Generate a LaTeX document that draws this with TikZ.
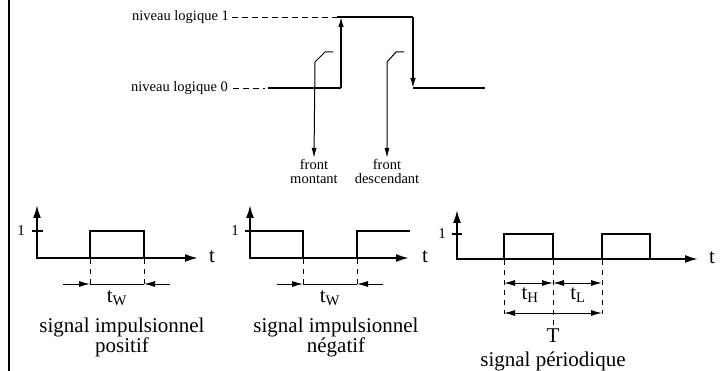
\documentclass[tikz,border=0pt]{standalone}
\usepackage{fontspec}
\setmainfont{Liberation Serif}
\usetikzlibrary{arrows.meta}
\begin{document}
\begin{tikzpicture}[x=1pt,y=-1pt,
  sig/.style={line width=1.9pt},
  axisarrow/.style={line width=1.9pt,-{Latex[length=13pt,width=8pt]}},
  topline/.style={line width=1.3pt},
  toparrow/.style={line width=1.3pt,-{Latex[length=10pt,width=5.5pt]}},
  pointer/.style={line width=1pt,-{Latex[length=10pt,width=5pt]}},
  levdash/.style={line width=0.8pt,dash pattern=on 6pt off 4pt},
  dimdash/.style={line width=0.8pt,dash pattern=on 5pt off 5pt},
  dimline/.style={line width=1pt},
  dimtip/.style={line width=1pt,-{Latex[length=11pt,width=6pt]}},
  dimboth/.style={line width=1pt,{Latex[length=11pt,width=6pt]}-{Latex[length=11pt,width=6pt]}},
  small/.style={font=\fontsize{14.5}{14.5}\selectfont,inner sep=0pt},
  onelbl/.style={font=\fontsize{15}{15}\selectfont,inner sep=0pt},
  big/.style={font=\fontsize{21}{22}\selectfont,inner sep=0pt},
  caption/.style={font=\fontsize{21}{22}\selectfont,inner sep=0pt,text height=14.7pt,text depth=4.6pt},
]
\useasboundingbox (0,0) rectangle (722,371);
% left bar
\draw[line width=2.5pt] (9,0) -- (9,371);

% ---------- top diagram ----------
\node[small,anchor=base east] (n1) at (229,21) {niveau logique 1};
\node[small,anchor=base east] (n0) at (228,92) {niveau logique 0};
\coordinate (d1s) at (232,17);
\coordinate (h1s) at (337,17);
\coordinate (up) at (341,17);
\coordinate (h1e) at (413,17);
\coordinate (d0s) at (233,88);
\coordinate (d0e) at (265,88);
\coordinate (l0s) at (268,88);
\coordinate (l0e) at (341,88);
\coordinate (dn) at (413,88);
\coordinate (l0f) at (485,88);
\draw[levdash] (d1s) -- (h1s);
\draw[levdash] (d0s) -- (d0e);
\draw[topline] (l0s) -- (l0e);
\draw[toparrow] (l0e) -- (up);
\draw[topline] (h1s) -- (h1e);
\draw[toparrow] (h1e) -- (dn);
\draw[topline] (dn) -- (l0f);

\node[small,anchor=north,align=center,inner sep=1pt] (fm) at (314,158) {front\\montant};
\node[small,anchor=north,align=center,inner sep=1pt] (fd) at (387,158) {front\\descendant};
\draw[pointer] (333,52) -- (325,52) -- (315,62) -- (fm.north);
\draw[pointer] (404,52) -- (396,52) -- (387,62) -- (fd.north);

% ---------- panel 1 ----------
\draw[sig] (90,258) -- (90,231) -- (144,231) -- (144,258);
\draw[axisarrow] (37,259) -- (37,205);
\draw[axisarrow] (36,258) -- (198,258);
\draw[sig] (32,231) -- (43,231);
\node[onelbl] (a1) at (21,231) {1};
\node[big] (ta) at (212,257) {t};
\draw[dimdash] (90,259) -- (90,284);
\draw[dimdash] (144,259) -- (144,284);
\draw[dimtip] (63,284) -- (90,284);
\draw[dimline] (90,284) -- (144,284);
\draw[dimtip] (170,284) -- (144,284);
\node[big] (tw1) at (117,298) {t\textsubscript{W}};
\node[caption] (c1a) at (122,327) {signal impulsionnel};
\node[caption] (c1b) at (122,347) {positif};

% ---------- panel 2 ----------
\draw[sig] (250,231) -- (303,231) -- (303,258);
\draw[sig] (357,258) -- (357,231) -- (410,231);
\draw[axisarrow] (250,259) -- (250,205);
\draw[axisarrow] (249,258) -- (409,258);
\draw[sig] (245,231) -- (255,231);
\node[onelbl] (a2) at (235,231) {1};
\node[big] (tb) at (425,257) {t};
\draw[dimdash] (303,259) -- (303,284);
\draw[dimdash] (357,259) -- (357,284);
\draw[dimtip] (277,284) -- (303,284);
\draw[dimline] (303,284) -- (357,284);
\draw[dimtip] (383,284) -- (357,284);
\node[big] (tw2) at (330,298) {t\textsubscript{W}};
\node[caption] (c2a) at (336,327) {signal impulsionnel};
\node[caption] (c2b) at (336,347) {négatif};

% ---------- panel 3 ----------
\draw[sig] (504,259) -- (504,234) -- (553,234) -- (553,259);
\draw[sig] (602,259) -- (602,234) -- (650,234) -- (650,259);
\draw[axisarrow] (457,260) -- (457,210);
\draw[axisarrow] (456,259) -- (698,259);
\draw[sig] (452,234) -- (462,234);
\node[onelbl] (a3) at (442,234) {1};
\node[big] (tc) at (712,258) {t};
\draw[dimdash] (504,260) -- (504,314);
\draw[dimdash] (553,260) -- (553,326);
\draw[dimdash] (602,260) -- (602,314);
\draw[dimboth] (504,283) -- (553,283);
\draw[dimboth] (553,283) -- (602,283);
\draw[dimboth] (504,313) -- (602,313);
\node[big] (th) at (530,295) {t\textsubscript{H}};
\node[big] (tl) at (578,295) {t\textsubscript{L}};
\node[big] (tT) at (553,336) {T};
\node[caption] (c3) at (553,361) {signal périodique};
\end{tikzpicture}
\end{document}
